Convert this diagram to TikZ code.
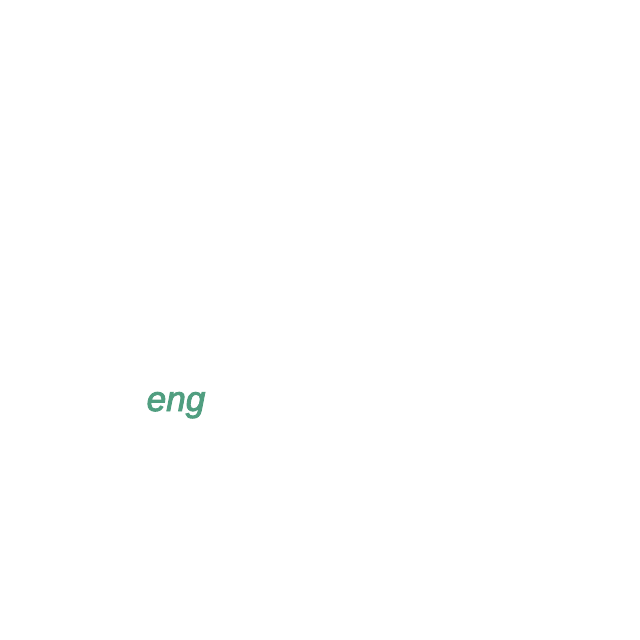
\documentclass[tikz,border=0pt]{standalone}
\usepackage{fontspec}
\newfontfamily\engfont[ItalicFeatures={FakeBold=2.6}]{Liberation Sans}
\definecolor{enggreen}{RGB}{80,158,128}
\tikzstyle{every node}=[enggreen, font=\engfont\itshape\fontsize{10}{12}\selectfont]

\begin{document}
\begin{tikzpicture}[x=0.1cm, y=-0.1cm]
% Frame
    \useasboundingbox (0,0) rectangle (64,64);
% Label
    \node[anchor=base] (eng) at (17.6,41.1) {eng};
\end{tikzpicture}
\end{document}
